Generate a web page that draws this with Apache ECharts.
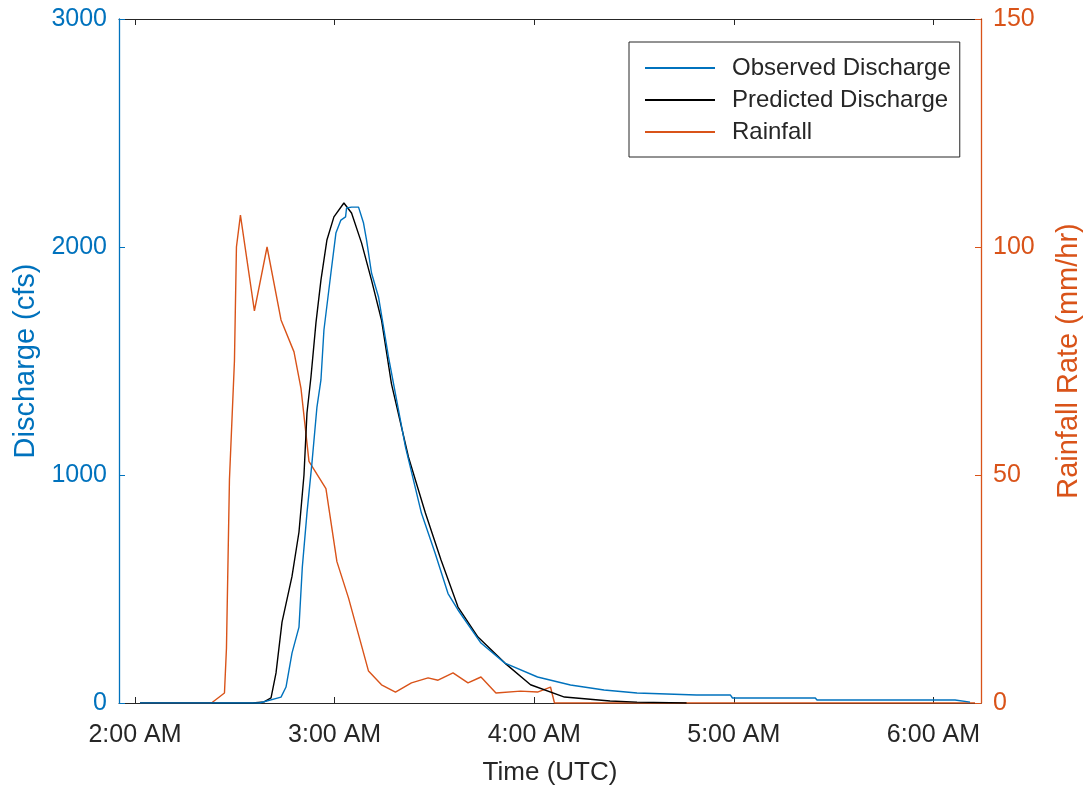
<!DOCTYPE html>
<html>
<head>
<meta charset="utf-8">
<script src="https://cdn.jsdelivr.net/npm/echarts@6/dist/echarts.min.js"></script>
<style>html,body{margin:0;padding:0;background:#fff}#c{width:1091px;height:791px}</style>
</head>
<body>
<div id="c"></div>
<script>
// Times are minutes after midnight (UTC)
const obsTime = [121.5,157.4,163.9,165.4,167.2,169.3,170.3,171.7,173.2,174.7,175.9,176.8,178.9,180.4,181.9,183.3,183.6,185.1,187.2,188.7,189.6,191.1,193.2,196.2,201.3,206.1,210.2,214.1,217.1,224.0,231.2,241.0,250.9,261.0,270.9,288.8,299.0,299.6,324.5,325.0,366.5,371.0];
const obsQ    = [0,0,26,70,219,333,596,833,1053,1298,1417,1636,1886,2061,2118,2132,2171,2175,2175,2105,2031,1886,1781,1518,1123,833,658,480,408,263,175,114,79,57,44,35,35,22,22,13,13,4];

const predTime = [121.5,155.3,158.8,160.9,162.4,164.2,167.2,169.3,170.8,171.7,172.9,174.4,175.9,177.7,179.8,182.8,185.1,188.1,191.1,194.1,197.1,202.2,207.3,212.0,217.1,223.1,231.2,238.9,249.1,262.8,270.9,285.8];
const predQ    = [0,0,5,22,132,355,555,750,1000,1272,1430,1667,1855,2031,2132,2193,2149,2018,1855,1680,1400,1079,833,627,421,289,175,80,26,9,4,0];

const rainTime = [121.5,143.0,146.9,147.5,148.4,149.9,150.5,151.7,155.9,159.7,163.9,167.8,169.9,172.3,177.4,180.7,184.2,187.2,190.2,194.1,198.3,203.1,208.1,211.1,215.6,220.1,224.0,228.5,235.9,241.0,244.9,246.1,372.5];
const rainRate = [0,0,2.2,12,49,75,100,107,86,100,84,77,69,53,47,31,23,15,7,4,2.4,4.4,5.5,5,6.6,4.4,5.7,2.2,2.6,2.4,3.5,0,0];

const xTicks = [120,180,240,300,360];
const seriesNames = ['Observed Discharge','Predicted Discharge','Rainfall'];

const zip = (a,b) => a.map((v,i)=>[v,b[i]]);
const BLUE='#0072BD', ORANGE='#D95319', AX='#262626';
const FONT='Liberation Sans, Arial, Helvetica, sans-serif';

const chart = echarts.init(document.getElementById('c'), null, {renderer:'canvas'});
chart.setOption({
  backgroundColor:'#fff',
  animation:false,
  grid:{left:119,right:105,top:19,bottom:88,containLabel:false},
  legend:{
    orient:'vertical', left:629, top:42,
    data:seriesNames,
    borderColor:AX, borderWidth:1, backgroundColor:'#fff',
    padding:[14,9,13,16], itemGap:8, itemWidth:70, itemHeight:24,
    textStyle:{fontFamily:FONT,fontSize:24,color:AX,padding:[0,0,0,12]},
    icon:'path://M0,11L70,11L70,13L0,13Z'
  },
  xAxis:[{
    type:'value', min:115.2, max:374.3,
    name:'Time (UTC)', nameLocation:'middle', nameGap:57,
    nameTextStyle:{fontFamily:FONT,fontSize:26,color:AX},
    axisLine:{show:true,onZero:false,lineStyle:{color:AX,width:1}},
    axisTick:{show:true,inside:true,length:6,customValues:xTicks,lineStyle:{color:AX}},
    axisLabel:{show:true,customValues:xTicks,margin:20,fontFamily:FONT,fontSize:25,color:AX,
      formatter:v=>Math.round(v/60)+':00 AM'},
    splitLine:{show:false}
  },{
    type:'value', position:'top', min:115.2, max:374.3,
    axisLine:{show:true,onZero:false,lineStyle:{color:AX,width:1}},
    axisTick:{show:true,inside:true,length:6,customValues:xTicks,lineStyle:{color:AX}},
    axisLabel:{show:false}, splitLine:{show:false}
  }],
  yAxis:[{
    type:'value', position:'left', min:0, max:3000, interval:1000,
    name:'Discharge (cfs)', nameLocation:'middle', nameGap:78, nameRotate:90,
    nameTextStyle:{fontFamily:FONT,fontSize:29,color:BLUE},
    axisLine:{show:true,lineStyle:{color:BLUE,width:1.3}},
    axisTick:{show:true,inside:true,length:6,lineStyle:{color:BLUE}},
    axisLabel:{margin:12,fontFamily:FONT,fontSize:25,color:BLUE,formatter:v=>String(v)},
    splitLine:{show:false}
  },{
    type:'value', position:'right', min:0, max:150, interval:50,
    name:'Rainfall Rate (mm/hr)', nameLocation:'middle', nameGap:73, nameRotate:90,
    nameTextStyle:{fontFamily:FONT,fontSize:29,color:ORANGE},
    axisLine:{show:true,lineStyle:{color:ORANGE,width:1.3}},
    axisTick:{show:true,inside:true,length:6,lineStyle:{color:ORANGE}},
    axisLabel:{margin:12,fontFamily:FONT,fontSize:25,color:ORANGE,formatter:v=>String(v)},
    splitLine:{show:false}
  }],
  series:[
    {name:seriesNames[2], type:'line', yAxisIndex:1, data:zip(rainTime,rainRate), symbol:'none',
      lineStyle:{color:ORANGE,width:1.4}, itemStyle:{color:ORANGE}, z:2},
    {name:seriesNames[1], type:'line', yAxisIndex:0, data:zip(predTime,predQ), symbol:'none',
      lineStyle:{color:'#000',width:1.4}, itemStyle:{color:'#000'}, z:3},
    {name:seriesNames[0], type:'line', yAxisIndex:0, data:zip(obsTime,obsQ), symbol:'none',
      lineStyle:{color:BLUE,width:1.4}, itemStyle:{color:BLUE}, z:4}
  ]
});
</script>
</body>
</html>
